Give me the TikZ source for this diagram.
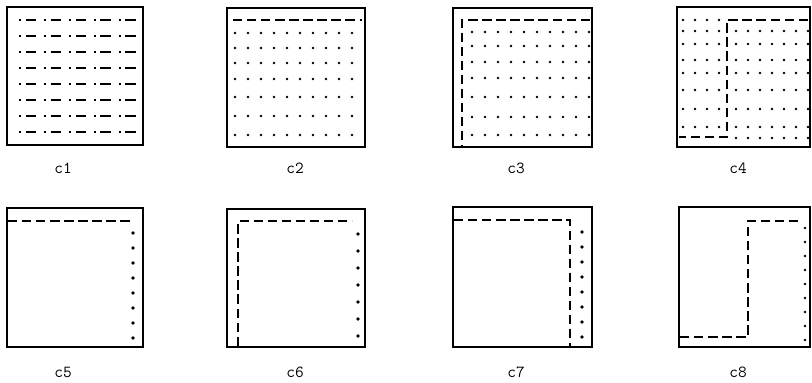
\documentclass[tikz,border=0pt]{standalone}
\usetikzlibrary{calc}

\begin{document}
\begin{tikzpicture}[x=0.3mm, y=-0.3mm, line join=miter,
    marco/.style={line width=1.7pt},
    raya/.style={line width=1.3pt, dash pattern=on 8pt off 4pt},
    rayapunto/.style={line width=1.3pt, dash pattern=on 1.8pt off 4pt on 9pt off 6.45pt},
    etiqueta/.style={font=\ttfamily\Large}]
  \useasboundingbox (0,0) rectangle (812,382);

  % c1: rayas y puntos
  \draw[marco] (7,7) rectangle (143,145);
  \foreach \y in {20,36,52,68,84,100,116,132}
    \draw[rayapunto] (19,\y) -- (140,\y);
  \node[etiqueta] (c1) at (63,168) {c1};

  % c2: una raya arriba, puntos debajo
  \draw[marco] (227,8) rectangle (365,147);
  \draw[raya] (233,20) -- (362,20);
  \foreach \y in {33,48,63,79,97,116,135}
    \foreach \x in {235,248,...,360}
      \fill (\x,\y) circle (1.1pt);
  \node[etiqueta] (c2) at (295,168) {c2};

  % c3: esquina de rayas
  \draw[marco] (453,8) rectangle (592,147);
  \draw[raya] (590,20) -- (462,20) -- (462,146);
  \foreach \y in {32,46,62,78,97,117,135}
    \foreach \x in {472,485,...,590}
      \fill (\x,\y) circle (1.1pt);
  \node[etiqueta] (c3) at (516,168) {c3};

  % c4: escalon de rayas
  \draw[marco] (677,7) rectangle (810,147);
  \draw[raya] (808,20) -- (727,20) -- (727,137) -- (679,137);
  \foreach \y in {20,31,44,60,73,90,109,127}
    \foreach \x in {683,695,707,719}
      \fill (\x,\y) circle (1.1pt);
  \foreach \y in {31,44,60,73,90,109,127,138}
    \foreach \x in {736,748,...,808}
      \fill (\x,\y) circle (1.1pt);
  \node[etiqueta] (c4) at (738,168) {c4};

  % c5
  \draw[marco] (7,208) rectangle (143,347);
  \draw[raya] (8,221) -- (132,221);
  \foreach \y in {233,248,...,340}
    \fill (133,\y) circle (1.6pt);
  \node[etiqueta] (c5) at (63,372) {c5};

  % c6
  \draw[marco] (227,209) rectangle (365,347);
  \draw[raya] (238,346) -- (238,221) -- (352,221);
  \foreach \y in {234,251,...,340}
    \fill (358,\y) circle (1.6pt);
  \node[etiqueta] (c6) at (295,372) {c6};

  % c7
  \draw[marco] (453,207) rectangle (592,347);
  \draw[raya] (454,220) -- (570,220) -- (570,346);
  \foreach \y in {232,247,...,340}
    \fill (582,\y) circle (1.6pt);
  \node[etiqueta] (c7) at (516,372) {c7};

  % c8
  \draw[marco] (679,207) rectangle (810,347);
  \draw[raya] (680,337) -- (748,337) -- (748,221) -- (800,221);
  \foreach \y in {228,242,...,340}
    \fill (805,\y) circle (1.2pt);
  \node[etiqueta] (c8) at (738,372) {c8};
\end{tikzpicture}
\end{document}
